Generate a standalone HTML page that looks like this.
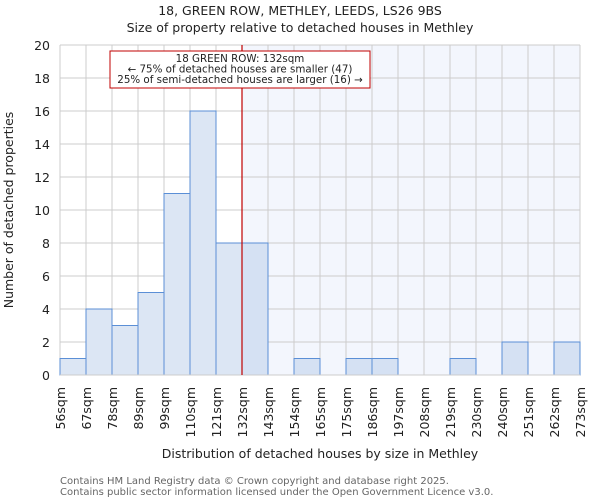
<!DOCTYPE html>
<html><head><meta charset="utf-8"><style>
body{margin:0;background:#fff;font-family:"DejaVu Sans","Liberation Sans",sans-serif;}
text{font-family:"DejaVu Sans","Liberation Sans",sans-serif;}
</style></head><body>
<svg id="chart" width="600" height="500" xmlns="http://www.w3.org/2000/svg">
<text x="300" y="15" text-anchor="middle" font-size="12.5" fill="#222">18, GREEN ROW, METHLEY, LEEDS, LS26 9BS</text>
<text x="300" y="32" text-anchor="middle" font-size="12.5" fill="#222">Size of property relative to detached houses in Methley</text>
<g id="plot"></g>
<text x="320" y="458" text-anchor="middle" font-size="12.5" fill="#222">Distribution of detached houses by size in Methley</text>
<text transform="translate(13,210) rotate(-90)" text-anchor="middle" font-size="12.5" fill="#222">Number of detached properties</text>
<text x="60" y="484" font-size="10" fill="#666">Contains HM Land Registry data © Crown copyright and database right 2025.</text>
<text x="60" y="495" font-size="10" fill="#666">Contains public sector information licensed under the Open Government Licence v3.0.</text>
</svg>
<script>
const binLabels=["56sqm","67sqm","78sqm","89sqm","99sqm","110sqm","121sqm","132sqm","143sqm","154sqm","165sqm","175sqm","186sqm","197sqm","208sqm","219sqm","230sqm","240sqm","251sqm","262sqm","273sqm"];
const counts=[1,4,3,5,11,16,8,8,0,1,0,1,1,0,0,1,0,2,0,2];
const yTicks=[0,2,4,6,8,10,12,14,16,18,20];
const markerIndex=7;
const NS="http://www.w3.org/2000/svg";
const L=60,R=580,T=45,B=375,yMax=20;
const bw=(R-L)/counts.length;
const xs=i=>L+i*bw;
const ys=v=>B-(v/yMax)*(B-T);
const g=document.getElementById('plot');
function mk(tag,attrs){const e=document.createElementNS(NS,tag);for(const k in attrs)e.setAttribute(k,attrs[k]);g.appendChild(e);return e;}
const mx=xs(markerIndex);
let sh=mk('rect',{x:mx,y:T,width:R-mx,height:B-T,fill:'#f3f6fd'});


yTicks.forEach(t=>{
  let l=mk('line',{x1:L,x2:R,y1:ys(t),y2:ys(t),stroke:'#ccc','stroke-width':1});
  
  
  let tx=mk('text',{x:L-10,y:ys(t)+5,'text-anchor':'end','font-size':12.5,fill:'#222'});
  tx.textContent=t;
  
  
});
binLabels.forEach((lab,i)=>{
  let l=mk('line',{x1:xs(i),x2:xs(i),y1:T,y2:B,stroke:'#ccc','stroke-width':1});
  
  
  let tx=mk('text',{transform:`translate(${xs(i)+5},${B+12}) rotate(-90)`,'text-anchor':'end','font-size':12.5,fill:'#222'});
  tx.textContent=lab;
  
  
});
counts.forEach((c,i)=>{
  if(c<=0)return;
  let r=mk('rect',{x:xs(i),y:ys(c),width:bw,height:B-ys(c),fill:i<markerIndex?'#dce6f4':'#d5e1f3',stroke:'#5b8fd6','stroke-width':1});
  
  
});
let ax=mk('line',{x1:L,x2:R,y1:B,y2:B,stroke:'#ccc'});


let ml=mk('line',{x1:mx,x2:mx,y1:T,y2:B,stroke:'#c00000','stroke-width':1.2});


let box=mk('rect',{x:110,y:51,width:260,height:37,fill:'#fff',stroke:'#c00000','stroke-width':1});


["18 GREEN ROW: 132sqm","← 75% of detached houses are smaller (47)","25% of semi-detached houses are larger (16) →"].forEach((s,k)=>{
  let t=mk('text',{x:240,y:62+k*10.5,'text-anchor':'middle','font-size':10.3,fill:'#222'});
  t.textContent=s;
  
  
});
</script>
</body></html>
